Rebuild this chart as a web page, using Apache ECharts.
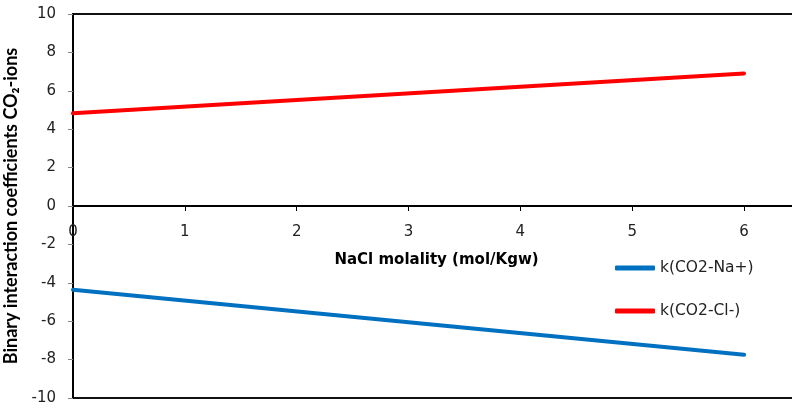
<!DOCTYPE html>
<html>
<head>
<meta charset="utf-8">
<script src="https://cdn.jsdelivr.net/npm/echarts@6/dist/echarts.min.js"></script>
<style>html,body{margin:0;padding:0;background:#fff}#c{width:792px;height:412px}</style>
</head>
<body>
<div id="c"></div>
<script>
var molality = [0, 6];
var kNa = [-4.36, -7.75];
var kCl = [4.83, 6.9];
var seriesNames = ['k(CO2-Na+)', 'k(CO2-Cl-)'];
var xTicks = [0, 1, 2, 3, 4, 5, 6];
var yTicks = [-10, -8, -6, -4, -2, 0, 2, 4, 6, 8, 10];

var WIDE = 'DejaVu Sans';
var NARROW = 'Lato';
function pairs(xs, ys) { return xs.map(function (x, i) { return [x, ys[i]]; }); }

var chart = echarts.init(document.getElementById('c'), null, { renderer: 'canvas' });
chart.setOption({
  animation: false,
  textStyle: { fontFamily: WIDE },
  grid: { left: 73, top: 14, width: 727, height: 384, outerBoundsMode: 'none', containLabel: false,
    show: true, borderColor: '#111', borderWidth: 2, backgroundColor: 'transparent' },
  legend: {
    orient: 'vertical', left: 615, top: 260, padding: 0, itemGap: 27, itemWidth: 40, itemHeight: 5,
    icon: 'roundRect',
    textStyle: { fontFamily: WIDE, fontSize: 15.5, color: '#222' },
    data: seriesNames
  },
  xAxis: {
    type: 'value', min: xTicks[0], max: 6.5, interval: 1,
    axisLine: { onZero: false, lineStyle: { color: '#000', width: 2 } },
    offset: -192,
    axisTick: { show: true, length: 5, lineStyle: { color: '#000' } },
    axisLabel: { fontFamily: WIDE, fontSize: 15, color: '#222', margin: 19, showMaxLabel: false,
      formatter: function (v) { return xTicks.indexOf(v) >= 0 ? String(v) : ''; } },
    splitLine: { show: false },
    name: 'NaCl molality (mol/Kgw)', nameLocation: 'middle', nameGap: 47,
    nameTextStyle: { fontFamily: WIDE, fontSize: 15, fontWeight: 'bold', color: '#000', verticalAlign: 'top' }
  },
  yAxis: {
    type: 'value', min: yTicks[0], max: yTicks[yTicks.length - 1], interval: 2,
    axisLine: { show: true, onZero: false, lineStyle: { color: '#000', width: 2 } },
    axisTick: { show: true, length: 5, lineStyle: { color: '#888' } },
    axisLabel: { fontFamily: WIDE, fontSize: 15, color: '#222', margin: 17 },
    splitLine: { show: false },
    name: 'Binary interaction coefficients CO\u2082-ions', nameLocation: 'middle', nameGap: 45,
    nameTextStyle: { fontFamily: NARROW, fontSize: 18, fontWeight: 'bold', color: '#000' }
  },
  series: [
    { name: seriesNames[0], type: 'line', data: pairs(molality, kNa), showSymbol: false, symbol: 'none',
      lineStyle: { color: '#0070C0', width: 4, cap: 'round' }, itemStyle: { color: '#0070C0' } },
    { name: seriesNames[1], type: 'line', data: pairs(molality, kCl), showSymbol: false, symbol: 'none',
      lineStyle: { color: '#FF0000', width: 4, cap: 'round' }, itemStyle: { color: '#FF0000' } }
  ]
});
</script>
</body>
</html>
